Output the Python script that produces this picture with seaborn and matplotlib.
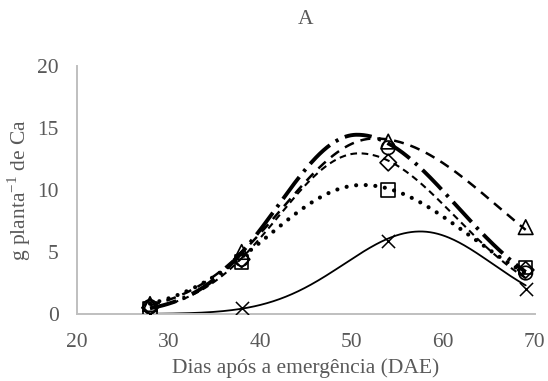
import numpy as np
import pandas as pd
import matplotlib
matplotlib.use("Agg")
import matplotlib.pyplot as plt
import seaborn as sns

# Sampling days (days after emergence)
days = [28, 38, 54, 69]

# Ca accumulation per plant (g) at each sampling day, one list per treatment
ca_x = [0.0, 0.45, 5.9, 2.0]
ca_square = [0.4, 4.2, 10.0, 3.75]
ca_diamond = [0.5, 4.4, 12.2, 3.55]
ca_circle = [0.6, 4.4, 13.4, 3.3]
ca_triangle = [0.8, 5.0, 13.9, 7.0]

# Fitted peak-shaped trend parameters per treatment:
# peak height, day of peak, rising width, falling width
fit_x = [6.65, 57.5, 8.3, 7.9]
fit_square = [10.4, 51.2, 10.3, 11.7]
fit_diamond = [12.95, 50.8, 8.8, 10.5]
fit_circle = [14.45, 50.6, 8.6, 10.8]
fit_triangle = [14.15, 52.5, 10.0, 13.6]

x_ticks = [20, 30, 40, 50, 60, 70]
y_ticks = [0, 5, 10, 15, 20]


def peak_curve(x, params):
    a, x0, bl, br = params
    b = np.where(x < x0, bl, br)
    return a * np.exp(-0.5 * ((x - x0) / b) ** 2)


sns.set_theme(style="white")
plt.rcParams["font.family"] = ["Liberation Serif", "DejaVu Serif"]
plt.rcParams["mathtext.fontset"] = "custom"
plt.rcParams["mathtext.rm"] = "Liberation Serif"

text_grey = "#595959"
axis_grey = "#bfbfbf"
fs = 15.5

fig = plt.figure(figsize=(5.48, 3.81), dpi=100)
ax = fig.add_axes([0.140, 0.176, 0.836, 0.651])

series = [
    ("x", ca_x, fit_x, dict(linestyle="-", linewidth=1.3)),
    ("s", ca_square, fit_square, dict(linestyle=(0, (0.01, 2.3)), linewidth=3.0,
                                      dash_capstyle="round")),
    ("D", ca_diamond, fit_diamond, dict(linestyle=(0, (3.2, 2.2)), linewidth=1.5)),
    ("o", ca_circle, fit_circle, dict(linestyle=(0, (7.0, 1.8, 0.8, 1.8)), linewidth=2.8)),
    ("^", ca_triangle, fit_triangle, dict(linestyle=(0, (4.0, 2.8)), linewidth=1.8)),
]

xs = np.linspace(days[0], days[-1], 300)
for marker, values, params, style in series:
    curve = pd.DataFrame({"dae": xs, "ca": peak_curve(xs, params)})
    sns.lineplot(data=curve, x="dae", y="ca", ax=ax, color="black", **style)

for marker, values, params, style in series:
    pts = pd.DataFrame({"dae": days, "ca": values})
    if marker == "x":
        sns.scatterplot(data=pts, x="dae", y="ca", ax=ax, marker="x", s=90,
                        color="black", linewidth=1.1, zorder=5)
    else:
        size = {"s": 95, "D": 70, "o": 95, "^": 110}[marker]
        sns.scatterplot(data=pts, x="dae", y="ca", ax=ax, marker=marker, s=size,
                        facecolor="none", edgecolor="black", linewidth=1.2, zorder=5)

ax.set_xlim(20, 70)
ax.set_ylim(0, 20)
ax.set_xticks(x_ticks)
ax.set_yticks(y_ticks)
ax.set_xticklabels([str(t) for t in x_ticks])
ax.set_yticklabels([str(t) for t in y_ticks])

for side in ("top", "right"):
    ax.spines[side].set_visible(False)
for side in ("left", "bottom"):
    ax.spines[side].set_color(axis_grey)
    ax.spines[side].set_linewidth(1.4)

ax.tick_params(axis="both", which="major", direction="out", length=5, width=1.2,
               color=axis_grey, labelcolor=text_grey, labelsize=fs)
ax.tick_params(axis="x", pad=9)
ax.tick_params(axis="y", pad=8)

ax.set_xlabel("Dias após a emergência (DAE)", color=text_grey, fontsize=fs, labelpad=4)
ax.set_ylabel(r"g planta$^{\mathregular{-1}}$ de Ca", color=text_grey, fontsize=fs, labelpad=3)
ax.set_title("A", color=text_grey, fontsize=fs, pad=30)

fig.savefig("out.png", dpi=100, facecolor="white")
